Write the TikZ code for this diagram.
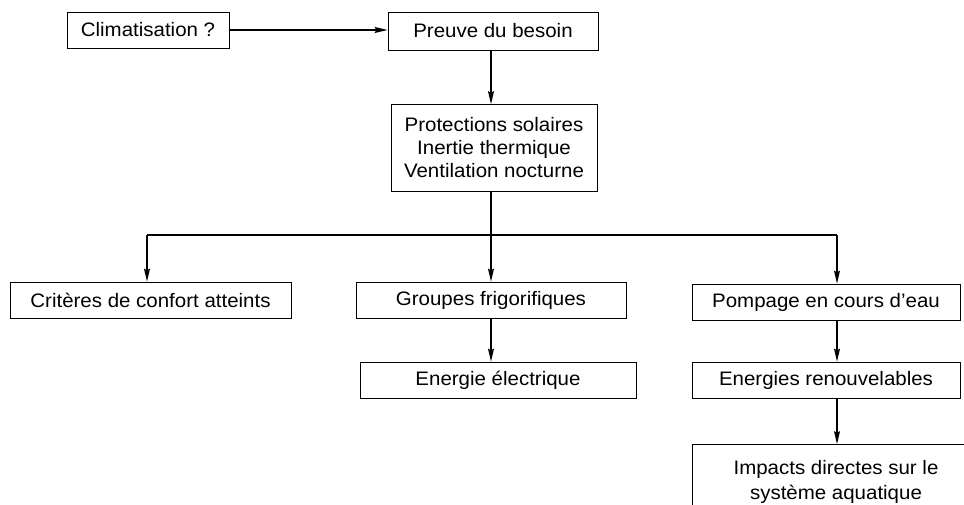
\documentclass[tikz,border=0pt]{standalone}
\usepackage{fontspec}
\setmainfont{Liberation Sans}[FakeStretch=1.05]
\usetikzlibrary{arrows.meta}
\begin{document}
\begin{tikzpicture}[x=1pt,y=-1pt,
  box/.style={draw, line width=0.8pt, fill=white, inner sep=0pt, align=center,
    font=\fontsize{19.5}{23}\selectfont},
  conn/.style={line width=1.3pt},
  arr/.style={conn, -{Stealth[length=13pt,width=6pt,inset=2pt]}}]
\useasboundingbox (0,0) rectangle (964,505);
\node[box, minimum width=162pt, minimum height=36pt] (clim) at (148,30) {Climatisation ?};
\node[box, minimum width=210pt, minimum height=38pt] (preuve) at (493,31) {Preuve du besoin};
\node[box, minimum width=206pt, minimum height=87pt] (prot) at (494,148) {Protections solaires\\Inertie thermique\\Ventilation nocturne};
\node[box, minimum width=281pt, minimum height=36pt] (crit) at (150.5,300) {Critères de confort atteints};
\node[box, minimum width=270pt, minimum height=36pt] (grp) at (491,300) {Groupes frigorifiques};
\node[box, minimum width=268pt, minimum height=36pt] (pomp) at (826,302) {Pompage en cours d’eau};
\node[box, minimum width=276pt, minimum height=36pt] (elec) at (498,380) {Energie électrique};
\node[box, minimum width=268pt, minimum height=36pt] (renouv) at (826,380) {Energies renouvelables};
\node[box, minimum width=288pt, minimum height=75pt, font=\fontsize{19.5}{25}\selectfont] (imp) at (836,482) {Impacts directes sur le\\système aquatique};
\coordinate (xa) at (147,235);
\coordinate (xb) at (491,235);
\coordinate (xc) at (837,235);
\draw[arr] (clim.east) -- (clim.east -| preuve.west);
\draw[arr] (preuve.south -| xb) -- (prot.north -| xb);
\draw[conn] (prot.south -| xb) -- (xb);
\draw[conn] (xa) -- (xc);
\draw[arr] (xa) -- (crit.north -| xa);
\draw[arr] (xb) -- (grp.north -| xb);
\draw[arr] (xc) -- (pomp.north -| xc);
\draw[arr] (grp.south -| xb) -- (elec.north -| xb);
\draw[arr] (pomp.south -| xc) -- (renouv.north -| xc);
\draw[arr] (renouv.south -| xc) -- (imp.north -| xc);
\end{tikzpicture}
\end{document}
